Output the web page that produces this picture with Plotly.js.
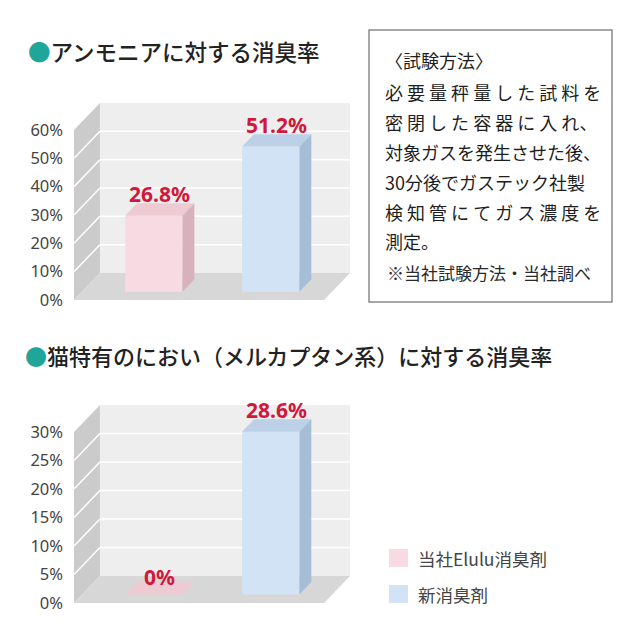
<!DOCTYPE html>
<html>
<head>
<meta charset="utf-8">
<script src="https://cdn.plot.ly/plotly-3.0.1.min.js"></script>
<style>
  html, body { margin: 0; padding: 0; background: #fff; }
  #chart { width: 640px; height: 640px; }
</style>
</head>
<body>
<div id="chart"></div>
<script>
// データ
const categories = ['当社Elulu消臭剤', '新消臭剤'];
const barColors = ['#f8dbe2', '#d2e3f5'];
const topColors = ['#eecad2', '#bcd1e7'];
const sideColors = ['#d8b2ba', '#a6bed5'];

const ammoniaTitle = 'アンモニアに対する消臭率';
const ammoniaValues = [26.8, 51.2];
const ammoniaTicks = [0, 10, 20, 30, 40, 50, 60];

const mercaptanTitle = '猫特有のにおい（メルカプタン系）に対する消臭率';
const mercaptanValues = [0, 28.6];
const mercaptanTicks = [0, 5, 10, 15, 20, 25, 30];

const methodLines = [
  '〈試験方法〉',
  '必 要 量 秤 量 し た 試 料 を',
  '密 閉 し た 容 器 に 入 れ、',
  '対象ガスを発生させた後、',
  '30分後でガステック社製',
  '検 知 管 に て ガ ス 濃 度 を',
  '測定。'
];
const methodNote = '※当社試験方法・当社調べ';

// 疑似3Dの奥行き
const xPos = [0, 1];
const xL = -0.614, xR = 1.525;
const DX = 0.222;
const d0 = 0.31, d1 = 0.77;
const barW = 0.49;

const P = 640;
const px = v => v / P;
const py = v => 1 - v / P;

let traces = [];
let shapes = [];
let annotations = [];

function addChart(xa, ya, values, ticks, DY) {
  const xref = xa, yref = ya;
  const yMax = ticks[ticks.length - 1];
  // 側面・奥・床
  shapes.push({type: 'path', xref: xref, yref: yref, layer: 'below', line: {width: 0},
    fillcolor: '#cbcbcb',
    path: `M${xL},0 L${xL + DX},${DY} L${xL + DX},${yMax + DY} L${xL},${yMax} Z`});
  shapes.push({type: 'rect', xref: xref, yref: yref, layer: 'below', line: {width: 0},
    fillcolor: '#eeeeee',
    x0: xL + DX, x1: xR + DX, y0: DY, y1: yMax + DY});
  shapes.push({type: 'path', xref: xref, yref: yref, layer: 'below', line: {width: 0},
    fillcolor: '#d7d7d7',
    path: `M${xL},0 L${xR},0 L${xR + DX},${DY} L${xL + DX},${DY} Z`});
  ticks.forEach(v => {
    if (v <= 0 || v >= yMax) return;
    shapes.push({type: 'line', xref: xref, yref: yref, layer: 'below',
      line: {color: '#ffffff', width: 1.5},
      x0: xL, y0: v, x1: xL + DX, y1: v + DY});
    shapes.push({type: 'line', xref: xref, yref: yref, layer: 'below',
      line: {color: '#ffffff', width: 1.5},
      x0: xL + DX, y0: v + DY, x1: xR + DX, y1: v + DY});
  });

  const base = d0 * DY;
  const ddx = (d1 - d0) * DX, ddy = (d1 - d0) * DY;
  traces.push({
    type: 'bar',
    x: xPos.map(p => p + d0 * DX),
    y: values,
    base: base,
    width: barW,
    marker: {color: barColors, line: {width: 0}},
    xaxis: xa, yaxis: ya,
    hoverinfo: 'skip',
    showlegend: false
  });
  values.forEach((v, i) => {
    const l = xPos[i] + d0 * DX - barW / 2;
    const r = xPos[i] + d0 * DX + barW / 2;
    const t = base + v;
    traces.push({
      type: 'scatter', mode: 'lines', fill: 'toself',
      x: [l, r, r + ddx, l + ddx, l], y: [t, t, t + ddy, t + ddy, t],
      fillcolor: topColors[i], line: {width: 0},
      xaxis: xa, yaxis: ya, hoverinfo: 'skip', showlegend: false
    });
    if (v > 0) {
      traces.push({
        type: 'scatter', mode: 'lines', fill: 'toself',
        x: [r, r + ddx, r + ddx, r, r], y: [base, base + ddy, t + ddy, t, base],
        fillcolor: sideColors[i], line: {width: 0},
        xaxis: xa, yaxis: ya, hoverinfo: 'skip', showlegend: false
      });
    }
    annotations.push({
      xref: xa, yref: ya,
      x: xPos[i] + d0 * DX + ddx / 2, y: t + ddy,
      xanchor: 'center', yanchor: 'bottom', yshift: v > 0 ? -7 : -11,
      showarrow: false,
      text: '<b>' + v + '%</b>',
      font: {family: 'Noto Sans, sans-serif', size: 21, color: '#d2173a'}
    });
  });
}

const DY1 = 9.52, DY2 = 4.76;
addChart('x', 'y', ammoniaValues, ammoniaTicks, DY1);
addChart('x2', 'y2', mercaptanValues, mercaptanTicks, DY2);

// タイトル
const titleFont = {family: 'Noto Sans CJK JP, sans-serif', size: 22.5, color: '#222', weight: 500};
annotations.push({xref: 'paper', yref: 'paper', x: px(26), y: py(51), xanchor: 'left', yanchor: 'middle',
  showarrow: false, font: titleFont,
  text: '<span style="color:#1fa59a">●</span>' + ammoniaTitle});
annotations.push({xref: 'paper', yref: 'paper', x: px(23), y: py(355), xanchor: 'left', yanchor: 'middle',
  showarrow: false, font: Object.assign({}, titleFont, {size: 22}),
  text: '<span style="color:#1fa59a">●</span>' + mercaptanTitle});

// 試験方法の枠
shapes.push({type: 'rect', xref: 'paper', yref: 'paper',
  x0: px(369), x1: px(612), y0: py(30), y1: py(302),
  line: {color: '#8a8a8a', width: 1.5}, fillcolor: 'rgba(0,0,0,0)'});
const lineY = [60, 92, 122, 152, 182, 212, 241];
methodLines.forEach((s, i) => {
  annotations.push({xref: 'paper', yref: 'paper', x: px(383), y: py(lineY[i]),
    xanchor: 'left', yanchor: 'middle', showarrow: false, text: s,
    font: {family: 'Noto Sans CJK JP, sans-serif', size: 18, color: '#1e1e1e'}});
});
annotations.push({xref: 'paper', yref: 'paper', x: px(385), y: py(272),
  xanchor: 'left', yanchor: 'middle', showarrow: false, text: methodNote,
  font: {family: 'Noto Sans CJK JP, sans-serif', size: 17, color: '#2a2a2a'}});

// 凡例
const legY = [558, 594];
categories.forEach((c, i) => {
  shapes.push({type: 'rect', xref: 'paper', yref: 'paper',
    x0: px(389), x1: px(408), y0: py(legY[i] - 9), y1: py(legY[i] + 9),
    line: {width: 0}, fillcolor: barColors[i]});
  annotations.push({xref: 'paper', yref: 'paper', x: px(416), y: py(legY[i]),
    xanchor: 'left', yanchor: 'middle', showarrow: false, text: c,
    font: {family: 'Noto Sans CJK JP, sans-serif', size: 17.5, color: '#444'}});
});

const xAxisBase = {range: [xL, xR + DX], showgrid: false, zeroline: false, showline: false,
  showticklabels: false, ticks: '', fixedrange: true};
const yAxisBase = {showgrid: false, zeroline: false, showline: false, ticks: '',
  ticklabelstandoff: 10, fixedrange: true,
  tickfont: {family: 'Noto Sans, sans-serif', size: 16.5, color: '#444'}};

const layout = {
  width: 640, height: 640,
  margin: {l: 0, r: 0, t: 0, b: 0},
  paper_bgcolor: '#ffffff', plot_bgcolor: 'rgba(0,0,0,0)',
  showlegend: false,
  xaxis: Object.assign({}, xAxisBase, {domain: [px(74), px(350)], anchor: 'y'}),
  yaxis: Object.assign({}, yAxisBase, {domain: [py(300), py(103)], range: [0, 60 + DY1],
    tickmode: 'array', tickvals: ammoniaTicks, ticktext: ammoniaTicks.map(t => t + '%'), anchor: 'x'}),
  xaxis2: Object.assign({}, xAxisBase, {domain: [px(74), px(350)], anchor: 'y2'}),
  yaxis2: Object.assign({}, yAxisBase, {domain: [py(603), py(405)], range: [0, 30 + DY2],
    tickmode: 'array', tickvals: mercaptanTicks, ticktext: mercaptanTicks.map(t => t + '%'), anchor: 'x2'}),
  shapes: shapes,
  annotations: annotations
};

Plotly.newPlot('chart', traces, layout, {displayModeBar: false, staticPlot: true});
</script>
</body>
</html>
